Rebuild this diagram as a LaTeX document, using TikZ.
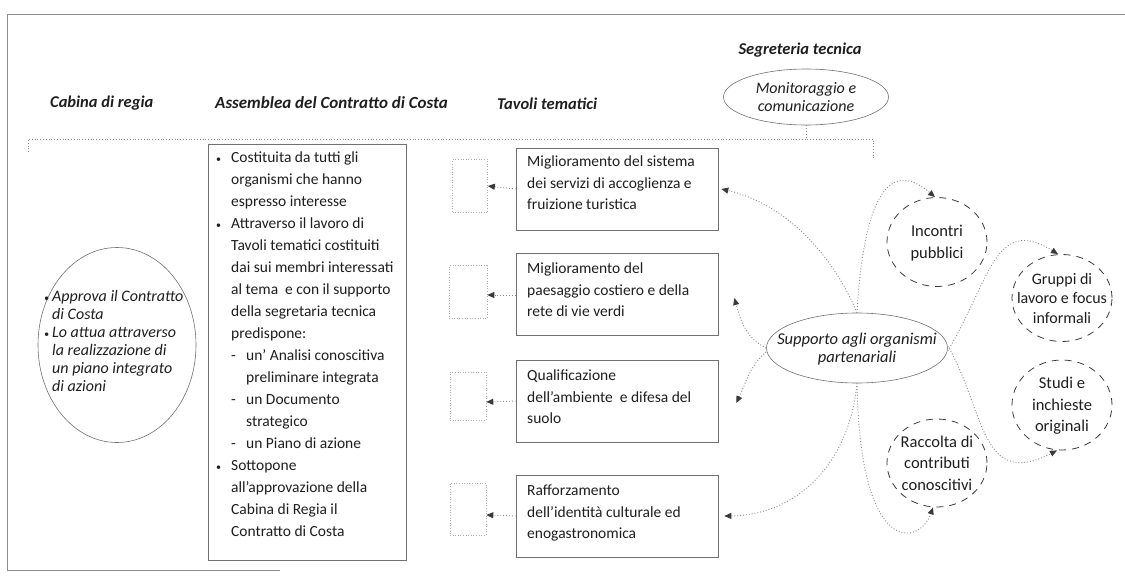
\documentclass[tikz,border=0pt]{standalone}
\usepackage{fontspec}
\setmainfont{Carlito}
\usetikzlibrary{arrows.meta,shapes.geometric}
\definecolor{txt}{HTML}{1E1E1E}
\definecolor{ln}{HTML}{707070}
\definecolor{dl}{HTML}{8A8A8A}
\definecolor{dk}{HTML}{3A3A3A}
\newcommand\smb{{\fontsize{10}{10}\selectfont\textbullet}}
\newcommand\bl{\makebox[15pt][l]{\smb}}
\newcommand\ind{\hspace*{15pt}}
\newcommand\dsh{\hspace*{15pt}\makebox[15pt][l]{-}}
\begin{document}
\begin{tikzpicture}[x=1pt,y=-1pt,
  every node/.style={text=txt},
  header/.style={font=\fontsize{16.5}{18}\selectfont\bfseries\itshape, anchor=west, inner sep=0},
  body/.style={font=\fontsize{15.5}{22}\selectfont, align=left, inner sep=0},
  tbox/.style={draw=ln, line width=0.6pt, rectangle, minimum width=202pt, minimum height=82pt, inner sep=0},
  ttext/.style={font=\fontsize{15.5}{21.5}\selectfont, align=left, inner sep=0, anchor=west},
  placeholder/.style={draw=dl!70, dotted, line width=0.6pt},
  ell/.style={draw=ln, line width=0.6pt, ellipse, inner sep=0},
  dcirc/.style={draw=dk, dashed, dash pattern=on 7pt off 6pt, line width=0.8pt, ellipse, inner sep=0, minimum width=100pt, minimum height=89pt},
  ctext/.style={font=\fontsize{16.5}{21.5}\selectfont, align=center, inner sep=0},
  itext/.style={font=\fontsize{16}{18}\selectfont\itshape, align=center, inner sep=0},
  conn/.style={draw=dl, dotted, line width=0.9pt, -{Triangle[length=7pt,width=6pt,fill=dk,color=dk]}},
  guide/.style={draw=dl, dotted, line width=0.8pt},
  frame/.style={draw=ln!80, line width=0.7pt}
]
\useasboundingbox (0,0) rectangle (1125,581);

% outer frame (partly faded)
\draw[frame] (280,570) -- (7,570) -- (7,14) -- (1125,14);

% headers
\node[header] (hcab) at (50,103) {Cabina di regia};
\node[header, font=\fontsize{17}{18}\selectfont\bfseries\itshape] (hass) at (215,103) {Assemblea del Contratto di Costa};
\node[header] (htav) at (497,104) {Tavoli tematici};
\node[header, anchor=center] (hseg) at (800,50) {Segreteria tecnica};

% segreteria ellipse
\node[ell, minimum width=165pt, minimum height=56pt] (mon) at (806,97) {};
\node[itext] (montxt) at (806,97) {Monitoraggio e\\comunicazione};

% guide bracket
\coordinate (gl) at (28,152);
\coordinate (gr) at (873,160);
\draw[guide] (gl) -- (28,139) -- (873,139) -- (gr);
\draw[guide] (mon.south) -- (806,139);

% cabina di regia
\node[ell, minimum width=158pt, minimum height=195pt] (cab) at (117,345) {};
\node[font=\fontsize{16}{18}\selectfont\itshape, align=left, inner sep=0, anchor=north west] (cabtxt) at (44,290)
 {\makebox[8pt][l]{\smb}Approva il Contratto\\
  \hspace*{8pt}di Costa\\
  \makebox[8pt][l]{\smb}Lo attua attraverso\\
  \hspace*{8pt}la realizzazione di\\
  \hspace*{8pt}un piano integrato\\
  \hspace*{8pt}di azioni};

% assemblea box
\node[draw=ln, line width=0.6pt, rectangle, minimum width=198pt, minimum height=416pt, inner sep=0] (ass) at (307,352) {};
\node[body, anchor=north west] (asstxt) at (216,152)
 {\bl Costituita da tutti gli\\
  \ind organismi che hanno\\
  \ind espresso interesse\\
  \bl Attraverso il lavoro di\\
  \ind Tavoli tematici costituiti\\
  \ind dai sui membri interessati\\
  \ind al tema \ e con il supporto\\
  \ind della segretaria tecnica\\
  \ind predispone:\\
  \dsh un' Analisi conoscitiva\\
  \hspace*{30pt}preliminare integrata\\
  \dsh un Documento\\
  \hspace*{30pt}strategico\\
  \dsh un Piano di azione\\
  \bl Sottopone\\
  \ind all'approvazione della\\
  \ind Cabina di Regia il\\
  \ind Contratto di Costa};

% tavoli boxes
\node[tbox] (t1) at (617,189) {};
\node[tbox] (t2) at (617,294) {};
\node[tbox] (t3) at (617,401) {};
\node[tbox] (t4) at (617,516) {};
\node[ttext] (t1txt) at (527,183) {Miglioramento del sistema\\dei servizi di accoglienza e\\fruizione turistica};
\node[ttext] (t2txt) at (527,290) {Miglioramento del\\paesaggio costiero e della\\rete di vie verdi};
\node[ttext] (t3txt) at (527,397) {Qualificazione\\dell'ambiente \ e difesa del\\suolo};
\node[ttext] (t4txt) at (527,513) {Rafforzamento\\dell'identità culturale ed\\enogastronomica};

% placeholders
\node[placeholder, minimum width=35pt, minimum height=53pt, inner sep=0] (p1) at (470,186) {};
\node[placeholder, minimum width=38pt, minimum height=53pt, inner sep=0] (p2) at (468,292) {};
\node[placeholder, minimum width=36pt, minimum height=48pt, inner sep=0] (p3) at (468,396) {};
\node[placeholder, minimum width=36pt, minimum height=52pt, inner sep=0] (p4) at (468,509) {};
\draw[conn] (t1.west) -- (p1.east);
\draw[conn] ([yshift=-1pt]t2.west) -- ([yshift=-3pt]p2.east);
\draw[conn] (t3.west) -- ([yshift=-6pt]p3.east);
\draw[conn] (t4.west) -- ([yshift=-6pt]p4.east);

% supporto
\node[ell, minimum width=181pt, minimum height=70pt] (sup) at (857,348) {};
\node[itext, font=\fontsize{16.5}{18}\selectfont\itshape] (suptxt) at (857,349) {Supporto agli organismi\\partenariali};

% satellite circles
\node[dcirc] (inc) at (937,242) {};
\node[ctext] (inctxt) at (937,243) {Incontri\\pubblici};
\node[dcirc, minimum height=87pt] (gru) at (1062,298) {};
\node[ctext, font=\fontsize{16}{19.5}\selectfont] (grutxt) at (1062,298) {Gruppi di\\lavoro e focus\\informali};
\node[dcirc, minimum height=90pt] (stu) at (1062,405) {};
\node[ctext] (stutxt) at (1062,406) {Studi e\\inchieste\\originali};
\node[dcirc, minimum height=88pt] (rac) at (937,463) {};
\node[ctext] (ractxt) at (937,463) {Raccolta di\\contributi\\conoscitivi};

% connectors from supporto
\draw[conn] (sup.north) .. controls (835,260) and (790,205) .. ([xshift=3pt]t1.east);
\draw[conn] (sup.north) .. controls (862,225) and (880,150) .. ([xshift=-2pt]inc.north);
\draw[conn] (sup.west) .. controls (745,338) and (740,318) .. ([xshift=16pt,yshift=-4pt]t2.east);
\draw[conn] ([yshift=-4pt]sup.west) .. controls (750,365) and (745,385) .. ([xshift=18pt,yshift=-2pt]t3.east);
\draw[conn] (sup.south) .. controls (850,460) and (800,515) .. ([xshift=6pt]t4.east);
\draw[conn] (sup.south) .. controls (860,560) and (920,545) .. ([xshift=-4pt]rac.south);
\draw[conn] ([yshift=2pt]sup.east) .. controls (985,410) and (980,490) .. ([xshift=-5pt]stu.south);
\draw[conn] ([yshift=-3pt]sup.east) .. controls (990,280) and (995,215) .. ([xshift=-4pt]gru.north);
\end{tikzpicture}
\end{document}
